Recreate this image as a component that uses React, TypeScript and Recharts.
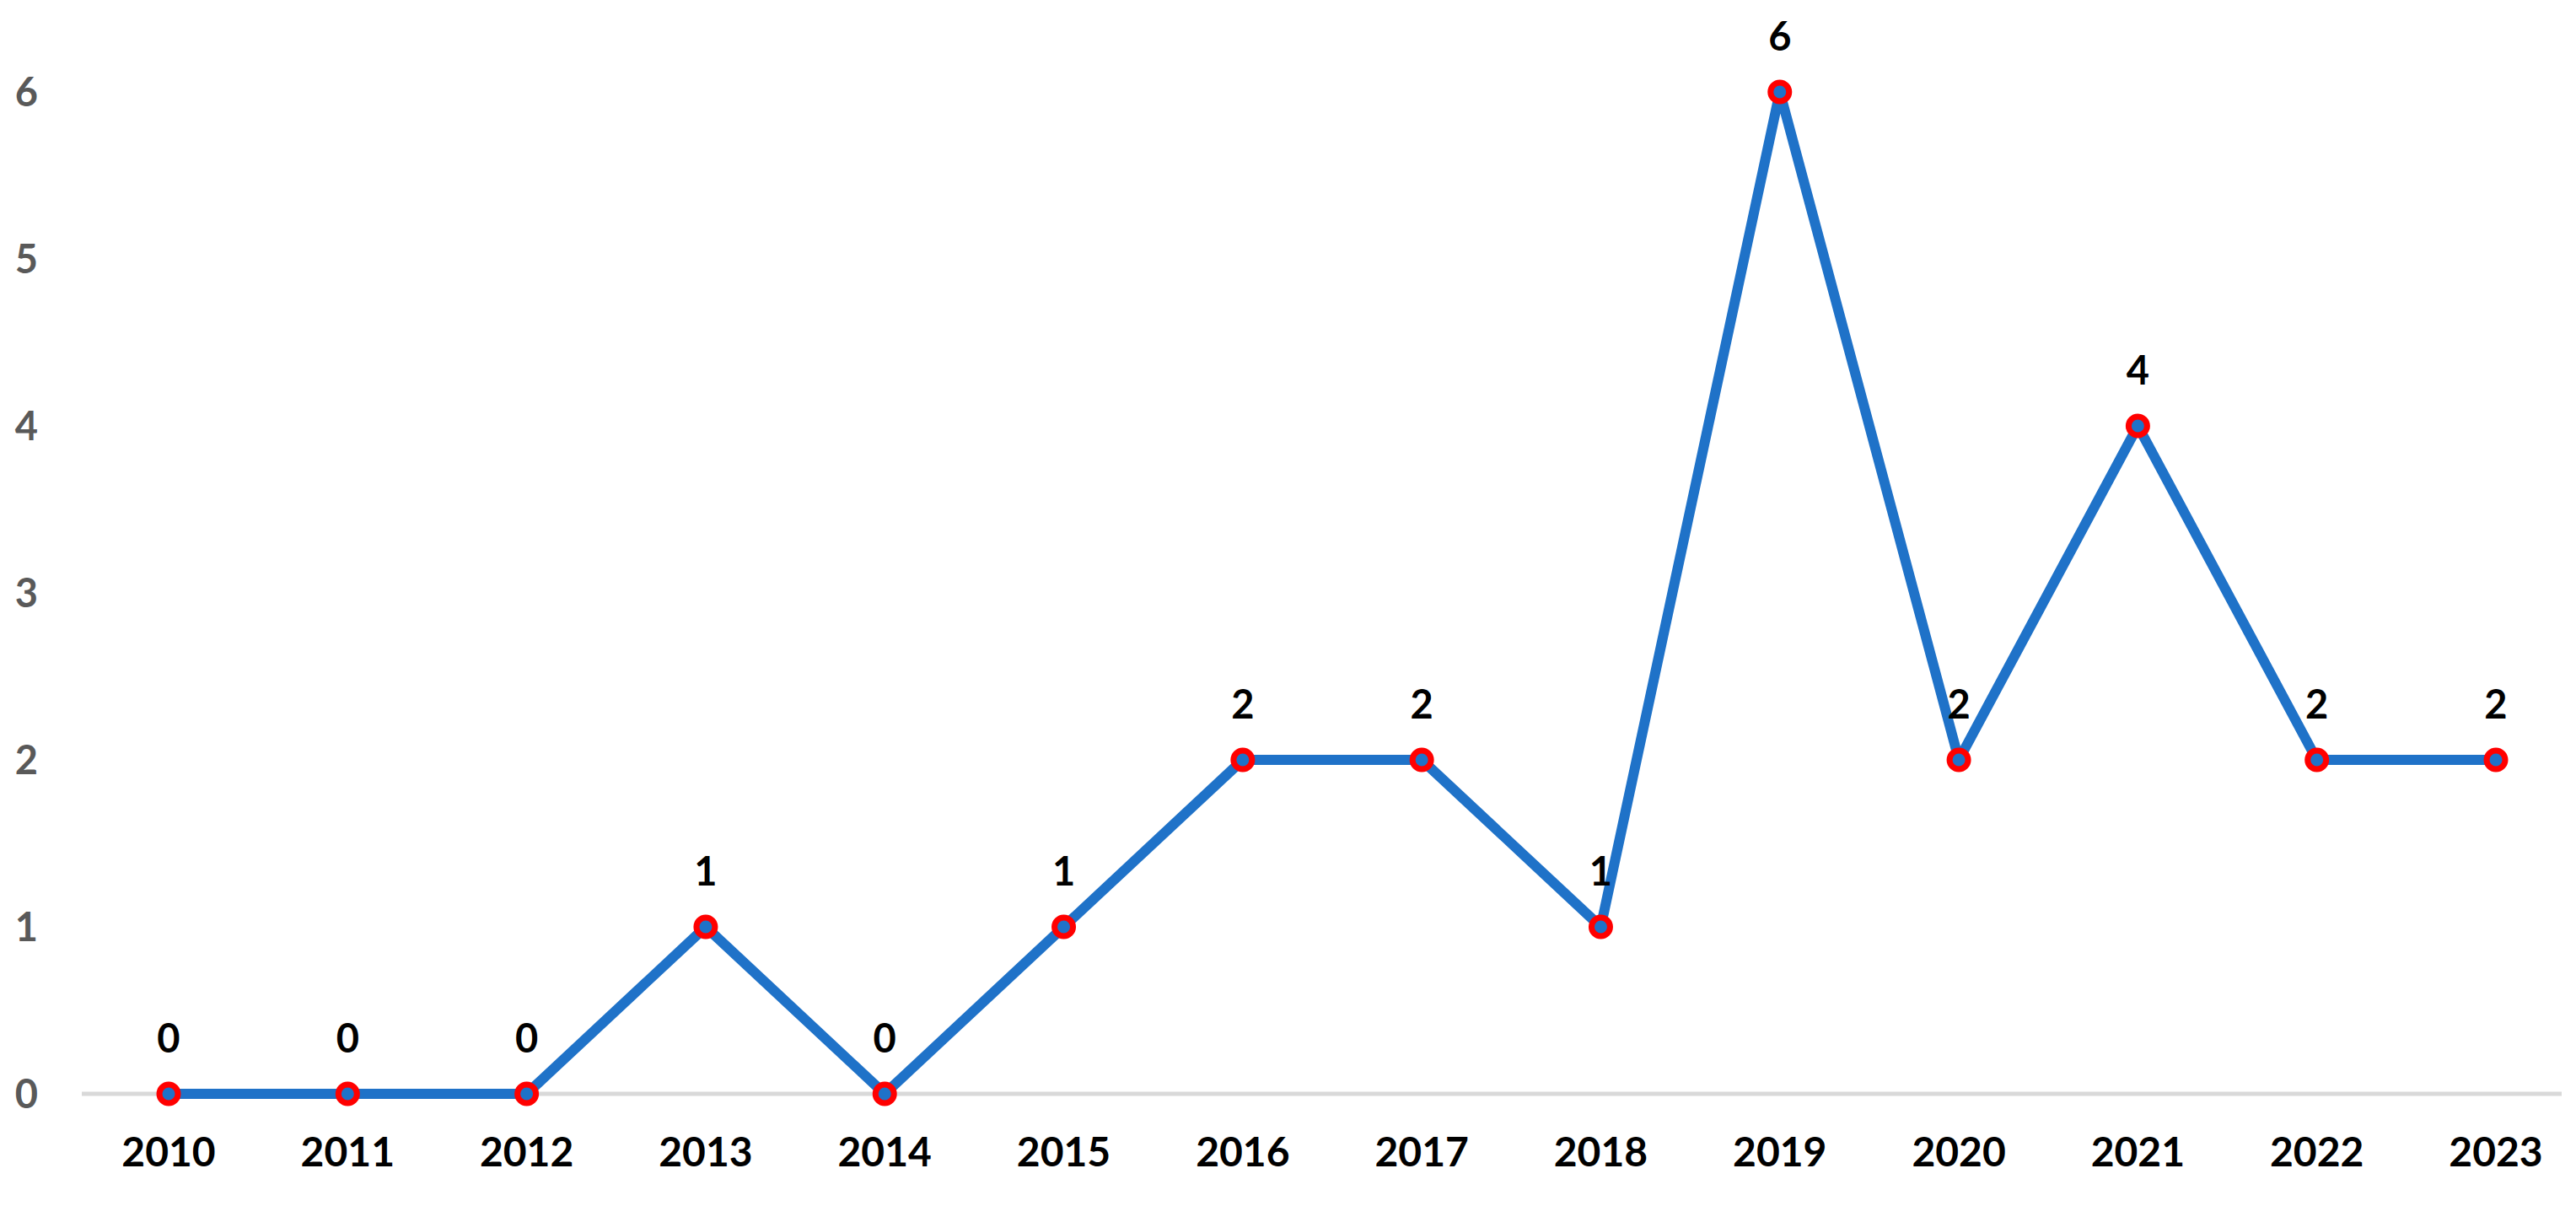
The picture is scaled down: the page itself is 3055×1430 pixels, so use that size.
import React from 'react';
import { LineChart, Line, XAxis, YAxis, LabelList, CartesianGrid } from 'recharts';

const years = ['2010', '2011', '2012', '2013', '2014', '2015', '2016', '2017', '2018', '2019', '2020', '2021', '2022', '2023'];
const counts = [0, 0, 0, 1, 0, 1, 2, 2, 1, 6, 2, 4, 2, 2];
const yTicks = [0, 1, 2, 3, 4, 5, 6];

const data = years.map((year, i) => ({ year, count: counts[i] }));

const FONT = 'Lato, "Open Sans", sans-serif';

export default function App() {
  return (
    <div style={{ position: 'absolute', left: 0, top: 0, width: 3055, height: 1430, background: '#fff' }}>
      <LineChart
        width={3055}
        height={1430}
        data={data}
        margin={{ top: 109, right: 17, left: 0, bottom: 33 }}
      >
        {/* baseline only, drawn under the series */}
        <CartesianGrid
          vertical={false}
          horizontalValues={[0]}
          stroke="#d9d9d9"
          strokeWidth={5}
        />
        <XAxis
          dataKey="year"
          scale="point"
          padding={{ left: 103, right: 78 }}
          axisLine={false}
          tickLine={false}
          tickSize={0}
          tickMargin={52}
          height={100}
          interval={0}
          tick={{ fill: '#000', fontSize: 48, fontWeight: 700, fontFamily: FONT }}
        />
        <YAxis
          domain={[0, 6]}
          ticks={yTicks}
          width={97}
          axisLine={false}
          tickLine={false}
          tickSize={0}
          tickMargin={52}
          tick={{ fill: '#595959', fontSize: 47, fontWeight: 700, fontFamily: FONT }}
        />
        <Line
          type="linear"
          dataKey="count"
          stroke="#1f72c8"
          strokeWidth={12}
          strokeLinejoin="round"
          dot={{ r: 11, fill: '#1f72c8', stroke: '#ff0000', strokeWidth: 7 }}
          activeDot={false}
          isAnimationActive={false}
        >
          <LabelList
            dataKey="count"
            position="top"
            offset={49}
            fill="#000"
            fontSize={47}
            fontWeight={700}
            fontFamily={FONT}
          />
        </Line>
      </LineChart>
    </div>
  );
}
